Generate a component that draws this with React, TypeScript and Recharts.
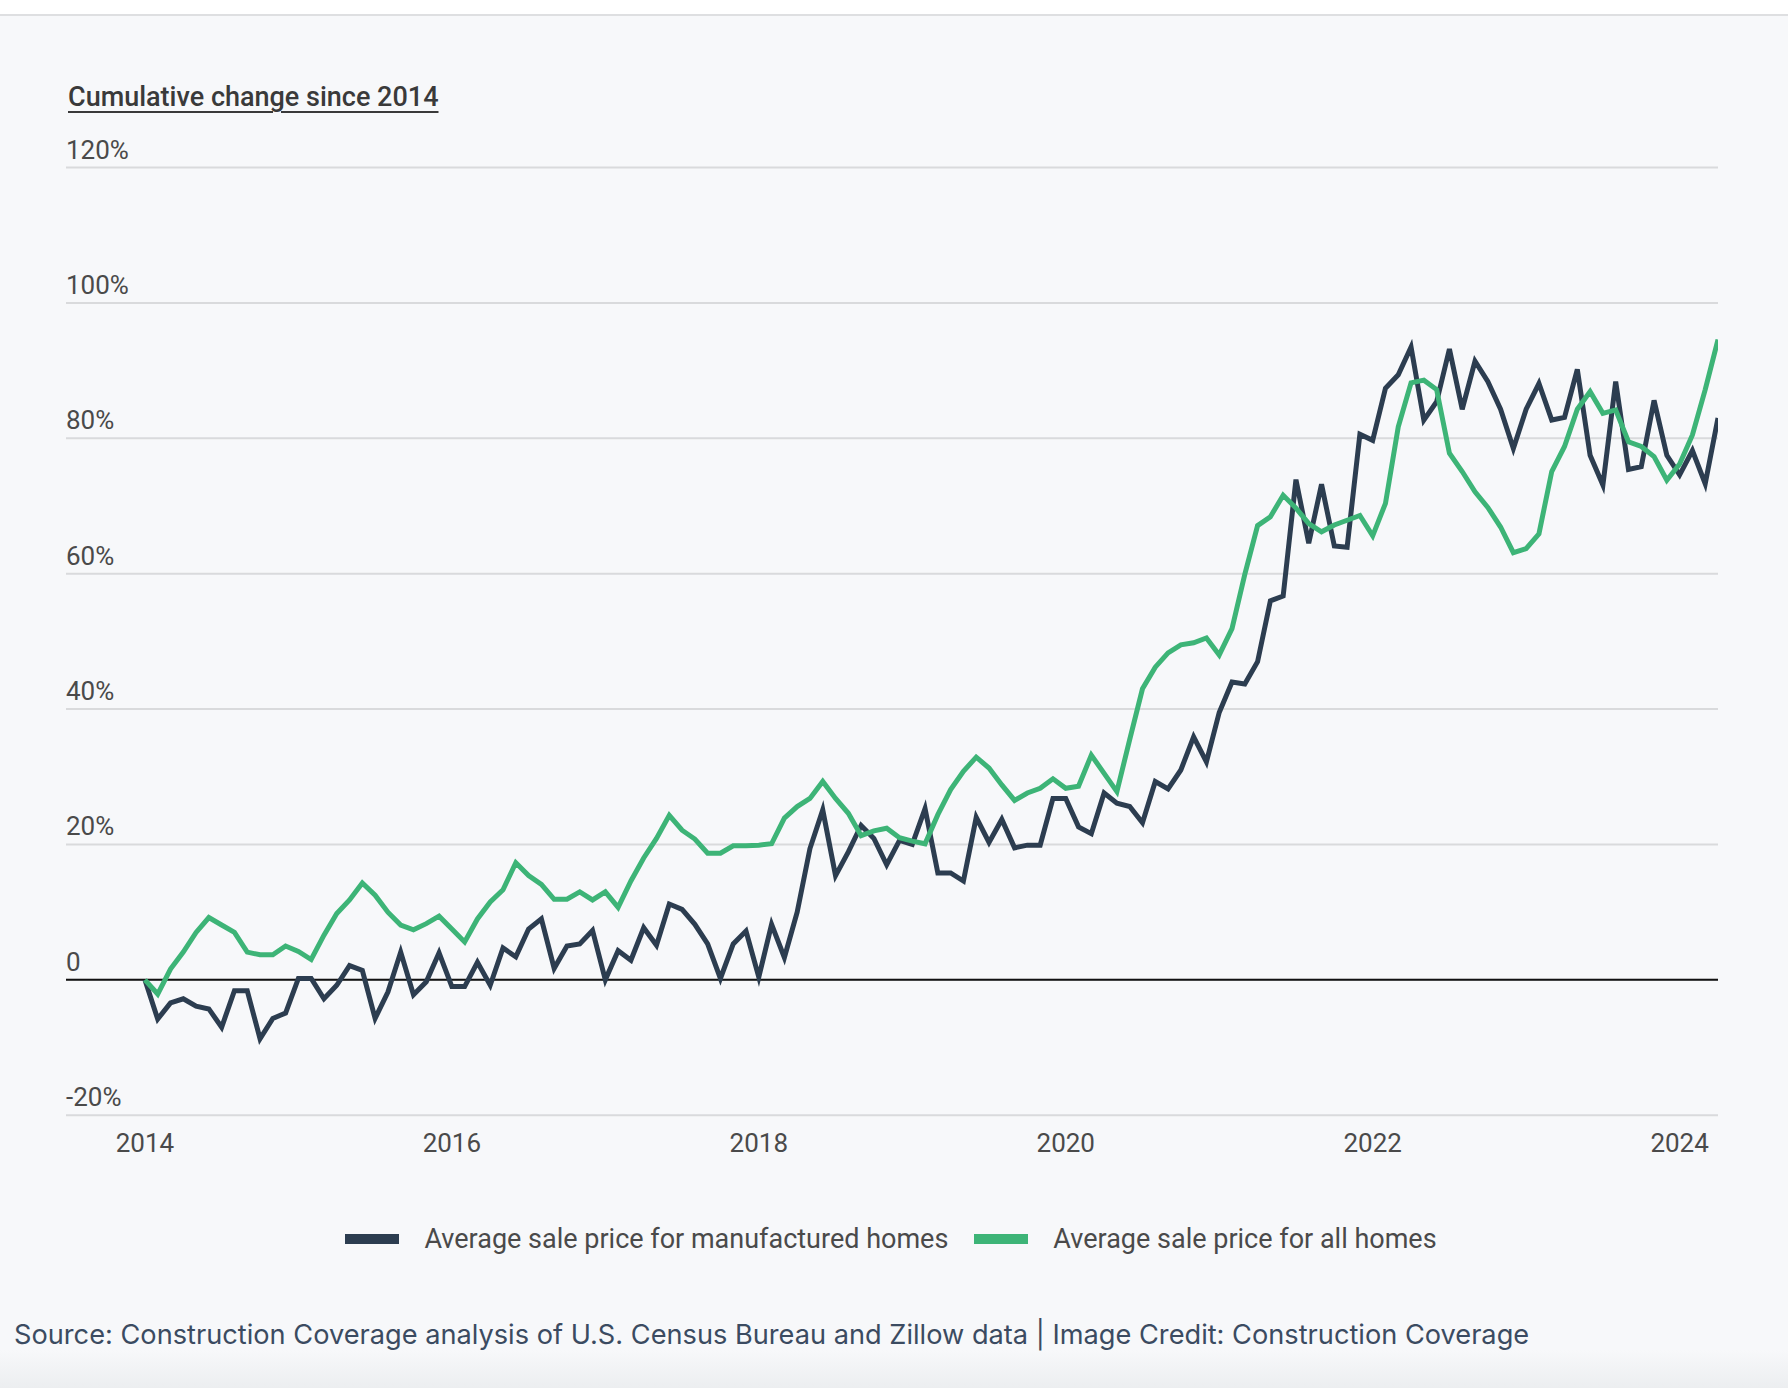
import React from 'react';
import { LineChart, Line, XAxis, YAxis, CartesianGrid, ReferenceLine } from 'recharts';

// Cumulative % change since Jan 2014, monthly (Jan 2014 – Apr 2024)
const manufactured = [
  0, -5.8, -3.4, -2.8, -3.9, -4.3, -7.0, -1.6, -1.6, -8.7, -5.7, -4.9,
  0.2, 0.2, -2.8, -0.8, 2.1, 1.4, -5.7, -1.8, 4.1, -2.2, -0.3, 4.0,
  -1.0, -1.0, 2.6, -0.8, 4.7, 3.4, 7.5, 9.0, 1.7, 5.0, 5.3, 7.3,
  0, 4.3, 2.9, 7.7, 5.1, 11.2, 10.4, 8.2, 5.3, 0.2, 5.3, 7.2,
  0.4, 8.2, 3.3, 10.0, 19.4, 25.1, 15.4, 18.9, 22.8, 20.9, 17.0, 20.6,
  20.0, 25.3, 15.8, 15.8, 14.6, 24.0, 20.3, 23.7, 19.5, 19.9, 19.9, 26.8,
  26.8, 22.6, 21.6, 27.6, 26.1, 25.6, 23.2, 29.3, 28.2, 31.0, 35.9, 32.2,
  39.5, 44.0, 43.7, 47.0, 56.0, 56.7, 73.9, 64.5, 73.2, 64.1, 63.9, 80.6,
  79.7, 87.4, 89.4, 93.5, 82.7, 85.4, 93.2, 84.3, 91.4, 88.4, 84.3, 78.5,
  84.3, 88.1, 82.7, 83.1, 90.2, 77.5, 73.1, 88.4, 75.4, 75.8, 85.6, 77.5,
  74.6, 78.2, 73.3, 83.0,
];

const allHomes = [
  0, -2.1, 1.6, 4.1, 7.0, 9.2, 8.1, 7.0, 4.1, 3.7, 3.7, 5.0,
  4.2, 3.0, 6.6, 9.8, 11.8, 14.3, 12.5, 10.0, 8.1, 7.4, 8.3, 9.4,
  7.5, 5.6, 9.0, 11.5, 13.3, 17.3, 15.4, 14.1, 11.9, 11.9, 13.0, 11.8,
  13.0, 10.7, 14.6, 18.0, 20.9, 24.3, 22.1, 20.8, 18.7, 18.7, 19.8, 19.8,
  19.9, 20.1, 23.9, 25.6, 26.8, 29.3, 26.8, 24.6, 21.3, 22.0, 22.4, 21.0,
  20.5, 20.1, 24.4, 28.1, 30.8, 32.9, 31.3, 28.8, 26.5, 27.6, 28.3, 29.7,
  28.3, 28.6, 33.2, 30.5, 27.8, 35.5, 43.0, 46.2, 48.3, 49.5, 49.8, 50.5,
  48.0, 51.9, 59.9, 67.1, 68.4, 71.6, 69.7, 67.4, 66.2, 67.2, 67.9, 68.6,
  65.6, 70.4, 81.7, 88.2, 88.6, 87.2, 77.8, 75.1, 72.1, 69.8, 66.9, 63.1,
  63.7, 65.9, 75.1, 78.8, 84.3, 86.9, 83.7, 84.2, 79.5, 78.8, 77.3, 73.8,
  76.2, 80.5, 87.2, 94.6,
];

const yTicks = [-20, 0, 20, 40, 60, 80, 100, 120];
const xTickMonths = [0, 24, 48, 72, 96, 120];
const xTickLabels = ['2014', '2016', '2018', '2020', '2022', '2024'];

const seriesNames = ['Average sale price for manufactured homes', 'Average sale price for all homes'];
const seriesKeys = ['manufactured', 'allHomes'];
const seriesColors = ['#2c3d50', '#3db477'];

const data = manufactured.map((v, i) => ({ t: i, manufactured: v, allHomes: allHomes[i] }));

const FONT = 'Roboto, "Noto Sans", Arial, sans-serif';
const SOURCE_FONT = 'Inter, "Open Sans", Roboto, sans-serif';

const YTick = (props: any) => {
  const { x, y, payload } = props;
  const v = payload.value;
  return (
    <text x={x} y={y - 18} textAnchor="start" dominantBaseline="central" fontFamily={FONT} fontSize={26} fill="#4a4a4a">
      {v === 0 ? '0' : `${v}%`}
    </text>
  );
};

const XTick = (props: any) => {
  const { x, y, payload } = props;
  const idx = xTickMonths.indexOf(payload.value);
  return (
    <text x={x} y={y + 28} textAnchor="middle" dominantBaseline="central" fontFamily={FONT} fontSize={26} fill="#4a4a4a">
      {xTickLabels[idx]}
    </text>
  );
};

export default function App() {
  return (
    <div
      style={{
        position: 'absolute',
        left: 0,
        top: 0,
        width: 1788,
        height: 1388,
        background: '#f7f8fa',
        overflow: 'hidden',
        fontFamily: FONT,
      }}
    >
      <div style={{ position: 'absolute', left: 0, top: 0, width: 1788, height: 14, background: '#ffffff' }} />
      <div style={{ position: 'absolute', left: 0, top: 14, width: 1788, height: 2, background: '#dedfe1' }} />
      <div
        style={{
          position: 'absolute',
          left: 0,
          top: 1350,
          width: 1788,
          height: 38,
          background: 'linear-gradient(to bottom, #f7f8fa, #eceef0)',
        }}
      />

      <div
        style={{
          position: 'absolute',
          left: 68,
          top: 80,
          fontSize: 27,
          fontWeight: 500,
          color: '#3a3a3a',
          textDecoration: 'underline',
          textUnderlineOffset: 5,
          lineHeight: '34px',
          whiteSpace: 'nowrap',
        }}
      >
        Cumulative change since 2014
      </div>

      <div style={{ position: 'absolute', left: 0, top: 0 }}>
        <LineChart
          width={1788}
          height={1188}
          data={data}
          margin={{ top: 167.6, right: 70, left: 0, bottom: 32.8 }}
        >
          <CartesianGrid vertical={false} stroke="#d9dadc" strokeWidth={2} />
          <XAxis
            type="number"
            dataKey="t"
            domain={[-6.17, 123]}
            ticks={xTickMonths}
            interval={0}
            axisLine={false}
            tickLine={false}
            tickSize={0}
            tickMargin={0}
            height={40}
            tick={<XTick />}
            allowDataOverflow
          />
          <YAxis
            type="number"
            orientation="left"
            domain={[-20, 120]}
            ticks={yTicks}
            interval={0}
            width={66}
            axisLine={false}
            tickLine={false}
            tickSize={0}
            tickMargin={0}
            tick={<YTick />}
            allowDataOverflow
          />
          <ReferenceLine y={0} stroke="#111111" strokeWidth={2} />
          {seriesKeys.map((k, i) => (
            <Line
              key={k}
              type="linear"
              dataKey={k}
              name={seriesNames[i]}
              stroke={seriesColors[i]}
              strokeWidth={5}
              dot={false}
              activeDot={false}
              isAnimationActive={false}
              strokeLinejoin="miter"
            />
          ))}
        </LineChart>
      </div>

      <div
        style={{
          position: 'absolute',
          left: 0,
          top: 1222,
          width: 1788,
          display: 'flex',
          justifyContent: 'center',
          alignItems: 'center',
          height: 34,
          paddingRight: 6,
          boxSizing: 'border-box',
        }}
      >
        {seriesNames.map((n, i) => (
          <div key={n} style={{ display: 'flex', alignItems: 'center', marginRight: i === 0 ? 26 : 0 }}>
            <div style={{ width: 54, height: 10, background: seriesColors[i], marginRight: 25 }} />
            <span style={{ fontSize: 27, color: '#4a4a4a', whiteSpace: 'nowrap' }}>{n}</span>
          </div>
        ))}
      </div>

      <div
        style={{
          position: 'absolute',
          left: 14,
          top: 1318,
          fontFamily: SOURCE_FONT,
          fontSize: 27.2,
          color: '#3b4b61',
          whiteSpace: 'nowrap',
          lineHeight: '34px',
        }}
      >
        Source: Construction Coverage analysis of U.S. Census Bureau and Zillow data | Image Credit: Construction Coverage
      </div>
    </div>
  );
}
